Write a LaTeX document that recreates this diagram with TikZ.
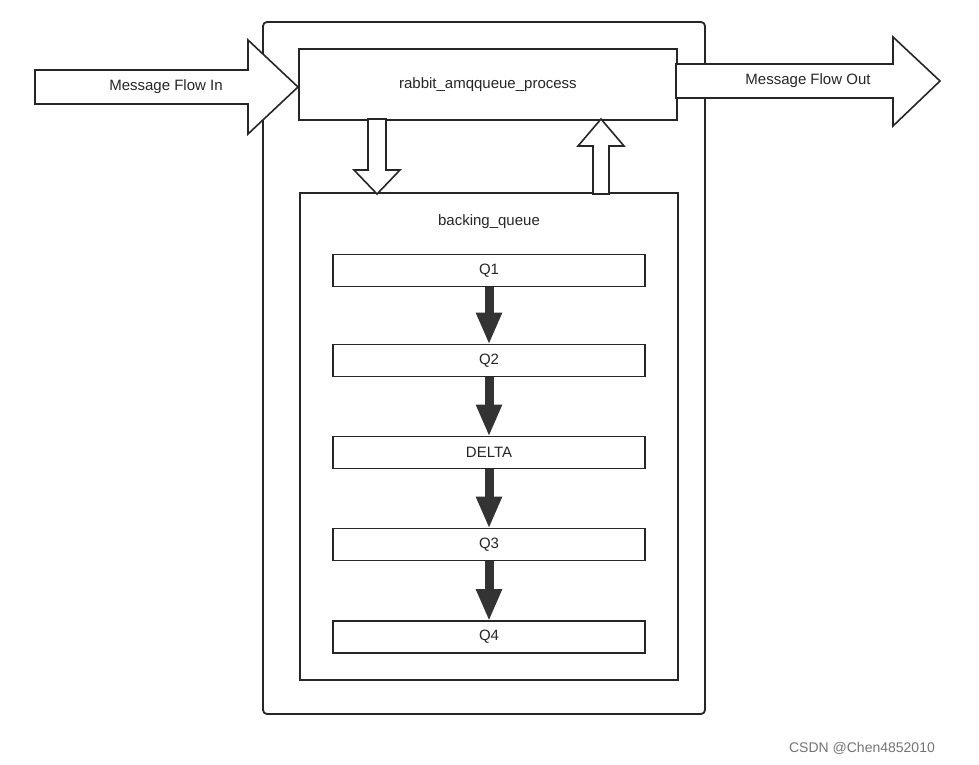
\documentclass[tikz,border=0pt]{standalone}
\usepackage{fontspec}
\setmainfont{Liberation Sans}
\usetikzlibrary{arrows.meta}
\begin{document}
\begin{tikzpicture}[x=1pt,y=-1pt,
  box/.style={draw=black!85,line width=1.8pt,fill=white},
  qbox/.style={draw=black!85,line width=1.8pt,minimum width=312pt,minimum height=32pt,inner sep=0pt,font=\fontsize{15}{17}\selectfont,text=black!85},
  blk/.style={draw=black!85,line width=1.6pt,fill=white,line join=miter},
  flow/.style={draw=black!80,line width=9pt,-{Triangle[length=32pt,width=24pt]},shorten >=-1pt},
  lbl/.style={font=\fontsize{15}{17}\selectfont,text=black!85}]
\useasboundingbox (0,0) rectangle (979,765);
\draw[box,rounded corners=4pt] (263,22) rectangle (705,714);
\node[box,minimum width=378pt,minimum height=71pt,inner sep=0pt,anchor=north west,lbl] (proc) at (298,48) {rabbit\_amqqueue\_process};
\draw[box] (300,193) rectangle (678,680);
\node[lbl] (bq) at (489,222) {backing\_queue};
\node[qbox] (q1) at (489,270.5) {Q1};
\node[qbox] (q2) at (489,360.5) {Q2};
\node[qbox] (d) at (489,452.5) {DELTA};
\node[qbox] (q3) at (489,544.5) {Q3};
\node[qbox] (q4) at (489,637) {Q4};
\draw[flow] (q1) -- (q2);
\draw[flow] (q2) -- (d);
\draw[flow] (d) -- (q3);
\draw[flow] (q3) -- (q4);
% input arrow
\draw[blk] (35,70) -- (248,70) -- (248,40) -- (298,87) -- (248,134) -- (248,104) -- (35,104) -- cycle;
\node[lbl] (in) at (166,87) {Message Flow In};
% output arrow
\draw[blk] (676,64) -- (893,64) -- (893,37) -- (940,81) -- (893,126) -- (893,98) -- (676,98) -- cycle;
\node[lbl] (out) at (808,81) {Message Flow Out};
% down arrow
\draw[blk] (368,119) -- (386,119) -- (386,170) -- (400,170) -- (377,194) -- (354,170) -- (368,170) -- cycle;
% up arrow
\draw[blk] (593,194) -- (609,194) -- (609,146) -- (624,146) -- (601,119) -- (578,146) -- (593,146) -- cycle;
\node[font=\fontsize{14}{16}\selectfont,text=black!55] (wm) at (862,748) {CSDN @Chen4852010};
\end{tikzpicture}
\end{document}
